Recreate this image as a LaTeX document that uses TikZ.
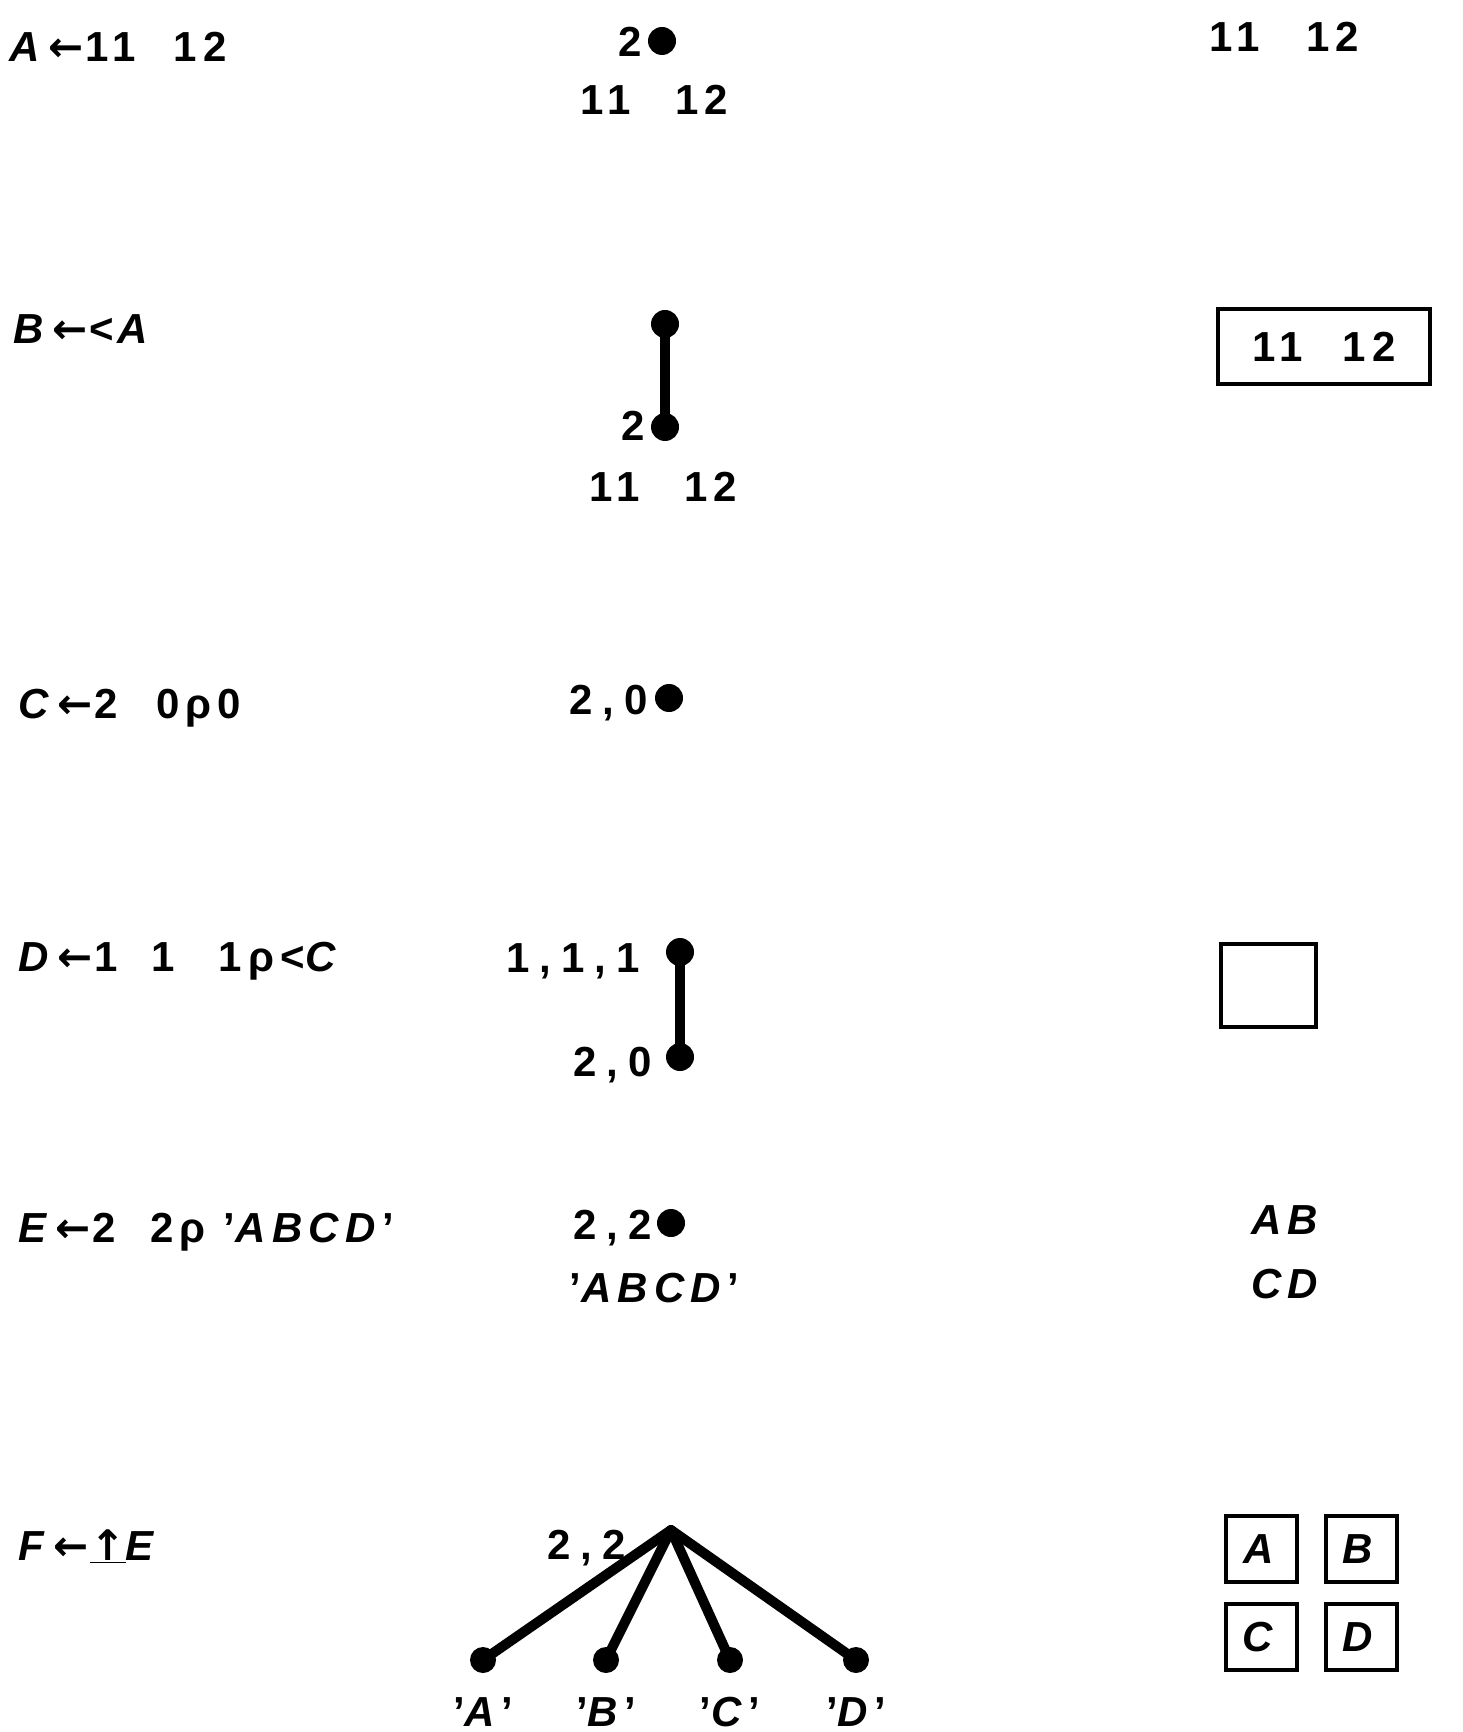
\documentclass[tikz,border=0pt]{standalone}
\usepackage{fontspec}
\setmainfont{Liberation Sans}[LetterSpace=15]
\newfontfamily\arrfont{DejaVu Sans}
\newcommand{\lt}[1]{\textit{#1}}
\newcommand{\asg}{\hspace{1pt}{\arrfont\bfseries ←}\hspace{1pt}}
\newcommand{\cma}{\hspace{5pt},\hspace{5pt}}
\begin{document}
\begin{tikzpicture}[x=0.5pt,y=-0.5pt,
  every node/.style={font=\fontsize{21}{25}\selectfont\bfseries, inner sep=0pt},
  dot/.style={circle, fill=black, minimum size=14pt, inner sep=0pt},
  leaf/.style={circle, fill=black, minimum size=13pt, inner sep=0pt},
  stem/.style={line width=5pt},
  branch/.style={line width=5pt, line cap=round, line join=round},
  cell/.style={draw, line width=2pt, inner sep=0pt}]
\useasboundingbox (0,0) rectangle (1462,1732);
% Row A
\node[anchor=base west] (labA) at (9,62) {\lt{A}\asg 11\hspace{10pt} 12};
\node[dot] (dA) at (662,41) {};
\node[anchor=base east] (nA) at (642,57) {2};
\node[anchor=base west] (vA) at (580,115) {11\hspace{13pt} 12};
\node[anchor=base west] (oA) at (1209,52) {11\hspace{14pt} 12};
% Row B
\node[anchor=base west] (labB) at (13,344) {\lt{B}\asg<\hspace{2pt}\lt{A}};
\node[dot] (dB1) at (665,324) {};
\node[dot] (dB2) at (665,427) {};
\draw[stem] (dB1.center) -- (dB2.center);
\node[anchor=base east] (nB) at (645,441) {2};
\node[anchor=base west] (vB) at (589,502) {11\hspace{13pt} 12};
\node[cell, minimum width=106pt, minimum height=37.5pt] (oB) at (1324,346.5) {11\hspace{11pt} 12};
% Row C
\node[anchor=base west] (labC) at (18,718) {\lt{C}\asg 2\hspace{10pt} 0ρ0};
\node[dot] (dC) at (669,698) {};
\node[anchor=base east] (nC) at (648,714) {2\cma 0};
% Row D
\node[anchor=base west] (labD) at (18,971) {\lt{D}\asg 1\hspace{8pt} 1\hspace{13pt} 1ρ<\lt{C}};
\node[dot] (dD1) at (680,952) {};
\node[dot] (dD2) at (680,1057) {};
\draw[stem] (dD1.center) -- (dD2.center);
\node[anchor=base east] (nD1) at (640,972) {1\cma 1\cma 1};
\node[anchor=base east] (nD2) at (652,1076) {2\cma 0};
\node[cell, minimum width=47.5pt, minimum height=41.5pt] (oD) at (1268.5,985.5) {};
% Row E
\node[anchor=base west] (labE) at (18,1242) {\lt{E}\asg 2\hspace{8pt} 2ρ '\lt{ABCD}'};
\node[dot] (dE) at (671,1223) {};
\node[anchor=base east] (nE) at (652,1239) {2\cma 2};
\node[anchor=base west] (vE) at (569,1302) {'\lt{ABCD}'};
\node (oE1) at (1288,1220) {\lt{AB}};
\node (oE2) at (1288,1284) {\lt{CD}};
% Row F
\node[anchor=base west] (labF) at (18,1560) {\lt{F}\asg\underline{{\arrfont\bfseries ↑}}\lt{E}};
\coordinate (apex) at (671,1530);
\node[anchor=base east] (nF) at (626,1559) {2\cma 2};
\node[leaf] (lA) at (483,1660) {};
\node[leaf] (lB) at (606,1660) {};
\node[leaf] (lC) at (730,1660) {};
\node[leaf] (lD) at (856,1660) {};
\foreach \l in {lA,lB,lC,lD} \draw[branch] (apex) -- (\l.center);
\node (tA) at (483,1712) {'\lt{A}'};
\node (tB) at (606,1712) {'\lt{B}'};
\node (tC) at (730,1712) {'\lt{C}'};
\node (tD) at (856,1712) {'\lt{D}'};
\node[cell, minimum width=35.5pt, minimum height=33pt] (bA) at (1261.5,1549) {\lt{A}};
\node[cell, minimum width=35.5pt, minimum height=33pt] (bB) at (1361,1549) {\lt{B}};
\node[cell, minimum width=35.5pt, minimum height=33pt] (bC) at (1261.5,1637) {\lt{C}};
\node[cell, minimum width=35.5pt, minimum height=33pt] (bD) at (1361,1637) {\lt{D}};
\end{tikzpicture}
\end{document}
